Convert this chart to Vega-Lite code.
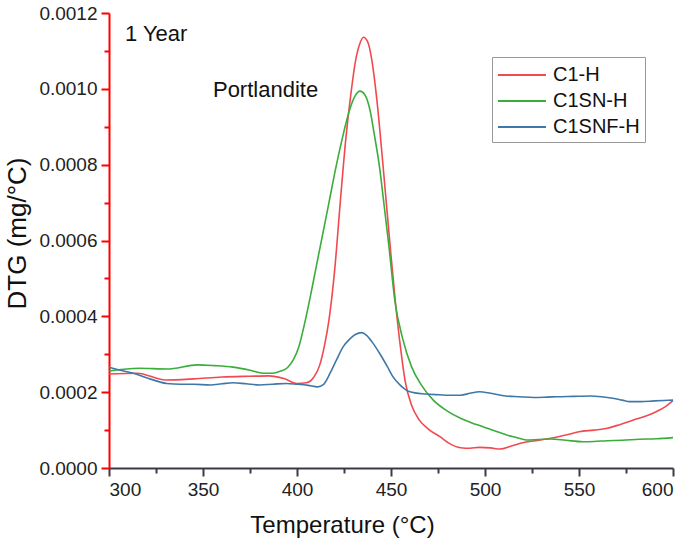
{
  "$schema": "https://vega.github.io/schema/vega-lite/v6.json",
  "width": 564,
  "height": 455,
  "autosize": {"type": "none"},
  "padding": {"left": 109, "top": 13, "right": 18, "bottom": 76},
  "background": "white",
  "config": {
    "font": "Liberation Sans",
    "view": {"stroke": null},
    "axis": {
      "domain": true,
      "ticks": true,
      "domainWidth": 2,
      "tickWidth": 2,
      "labelColor": "#222222",
      "titleColor": "#111111",
      "labelFontSize": 19,
      "titleFontSize": 24,
      "titleFontWeight": "normal",
      "grid": false
    }
  },
  "resolve": {"axis": {"x": "independent", "y": "independent"}},
  "datasets": {
    "curves": [
      {"T": 300, "v": 0.000248, "s": "C1-H"},
      {"T": 315, "v": 0.000250, "s": "C1-H"},
      {"T": 330, "v": 0.000232, "s": "C1-H"},
      {"T": 345, "v": 0.000235, "s": "C1-H"},
      {"T": 360, "v": 0.000240, "s": "C1-H"},
      {"T": 375, "v": 0.000242, "s": "C1-H"},
      {"T": 385, "v": 0.000243, "s": "C1-H"},
      {"T": 393, "v": 0.000236, "s": "C1-H"},
      {"T": 400, "v": 0.000223, "s": "C1-H"},
      {"T": 405, "v": 0.000225, "s": "C1-H"},
      {"T": 409, "v": 0.000240, "s": "C1-H"},
      {"T": 412, "v": 0.000270, "s": "C1-H"},
      {"T": 414.5, "v": 0.000320, "s": "C1-H"},
      {"T": 417, "v": 0.000390, "s": "C1-H"},
      {"T": 420, "v": 0.000520, "s": "C1-H"},
      {"T": 423, "v": 0.000700, "s": "C1-H"},
      {"T": 426, "v": 0.000870, "s": "C1-H"},
      {"T": 428.5, "v": 0.000980, "s": "C1-H"},
      {"T": 431, "v": 0.001070, "s": "C1-H"},
      {"T": 433.5, "v": 0.001120, "s": "C1-H"},
      {"T": 435.3, "v": 0.001136, "s": "C1-H"},
      {"T": 437.5, "v": 0.001125, "s": "C1-H"},
      {"T": 440, "v": 0.001070, "s": "C1-H"},
      {"T": 442.5, "v": 0.000970, "s": "C1-H"},
      {"T": 445, "v": 0.000840, "s": "C1-H"},
      {"T": 447.5, "v": 0.000700, "s": "C1-H"},
      {"T": 450, "v": 0.000560, "s": "C1-H"},
      {"T": 452.5, "v": 0.000430, "s": "C1-H"},
      {"T": 455, "v": 0.000320, "s": "C1-H"},
      {"T": 457.5, "v": 0.000230, "s": "C1-H"},
      {"T": 461, "v": 0.000165, "s": "C1-H"},
      {"T": 465, "v": 0.000127, "s": "C1-H"},
      {"T": 470, "v": 0.000102, "s": "C1-H"},
      {"T": 476, "v": 0.0000826, "s": "C1-H"},
      {"T": 481, "v": 0.000065, "s": "C1-H"},
      {"T": 487, "v": 0.0000536, "s": "C1-H"},
      {"T": 492, "v": 0.000052, "s": "C1-H"},
      {"T": 497, "v": 0.0000545, "s": "C1-H"},
      {"T": 503, "v": 0.000053, "s": "C1-H"},
      {"T": 508, "v": 0.000050, "s": "C1-H"},
      {"T": 514, "v": 0.000058, "s": "C1-H"},
      {"T": 520, "v": 0.0000667, "s": "C1-H"},
      {"T": 527, "v": 0.000072, "s": "C1-H"},
      {"T": 535, "v": 0.0000783, "s": "C1-H"},
      {"T": 543, "v": 0.000087, "s": "C1-H"},
      {"T": 550, "v": 0.0000957, "s": "C1-H"},
      {"T": 558, "v": 0.000100, "s": "C1-H"},
      {"T": 565, "v": 0.0001047, "s": "C1-H"},
      {"T": 572, "v": 0.000115, "s": "C1-H"},
      {"T": 579, "v": 0.0001266, "s": "C1-H"},
      {"T": 586, "v": 0.000138, "s": "C1-H"},
      {"T": 591, "v": 0.0001485, "s": "C1-H"},
      {"T": 596, "v": 0.000162, "s": "C1-H"},
      {"T": 600, "v": 0.0001775, "s": "C1-H"},

      {"T": 300, "v": 0.000256, "s": "C1SN-H"},
      {"T": 316, "v": 0.000263, "s": "C1SN-H"},
      {"T": 331, "v": 0.000261, "s": "C1SN-H"},
      {"T": 347, "v": 0.000272, "s": "C1SN-H"},
      {"T": 356, "v": 0.000270, "s": "C1SN-H"},
      {"T": 366, "v": 0.000266, "s": "C1SN-H"},
      {"T": 375, "v": 0.000258, "s": "C1SN-H"},
      {"T": 382, "v": 0.000250, "s": "C1SN-H"},
      {"T": 387, "v": 0.000250, "s": "C1SN-H"},
      {"T": 391, "v": 0.000255, "s": "C1SN-H"},
      {"T": 395, "v": 0.000265, "s": "C1SN-H"},
      {"T": 398, "v": 0.000285, "s": "C1SN-H"},
      {"T": 401, "v": 0.000320, "s": "C1SN-H"},
      {"T": 404, "v": 0.000380, "s": "C1SN-H"},
      {"T": 407, "v": 0.000450, "s": "C1SN-H"},
      {"T": 410, "v": 0.000525, "s": "C1SN-H"},
      {"T": 413, "v": 0.000600, "s": "C1SN-H"},
      {"T": 417, "v": 0.000700, "s": "C1SN-H"},
      {"T": 421, "v": 0.000800, "s": "C1SN-H"},
      {"T": 424.6, "v": 0.000880, "s": "C1SN-H"},
      {"T": 428, "v": 0.000945, "s": "C1SN-H"},
      {"T": 431, "v": 0.000982, "s": "C1SN-H"},
      {"T": 433.5, "v": 0.000994, "s": "C1SN-H"},
      {"T": 436, "v": 0.000985, "s": "C1SN-H"},
      {"T": 439, "v": 0.000940, "s": "C1SN-H"},
      {"T": 441, "v": 0.000883, "s": "C1SN-H"},
      {"T": 444, "v": 0.000790, "s": "C1SN-H"},
      {"T": 446, "v": 0.000707, "s": "C1SN-H"},
      {"T": 449, "v": 0.000580, "s": "C1SN-H"},
      {"T": 452, "v": 0.000443, "s": "C1SN-H"},
      {"T": 456, "v": 0.000345, "s": "C1SN-H"},
      {"T": 461, "v": 0.000266, "s": "C1SN-H"},
      {"T": 466, "v": 0.000220, "s": "C1SN-H"},
      {"T": 472.5, "v": 0.000179, "s": "C1SN-H"},
      {"T": 480, "v": 0.000150, "s": "C1SN-H"},
      {"T": 487, "v": 0.000131, "s": "C1SN-H"},
      {"T": 493, "v": 0.000119, "s": "C1SN-H"},
      {"T": 499, "v": 0.000109, "s": "C1SN-H"},
      {"T": 505, "v": 0.000098, "s": "C1SN-H"},
      {"T": 511.5, "v": 0.000087, "s": "C1SN-H"},
      {"T": 517, "v": 0.000080, "s": "C1SN-H"},
      {"T": 522, "v": 0.000074, "s": "C1SN-H"},
      {"T": 528, "v": 0.000075, "s": "C1SN-H"},
      {"T": 535, "v": 0.0000765, "s": "C1SN-H"},
      {"T": 543, "v": 0.000073, "s": "C1SN-H"},
      {"T": 552, "v": 0.0000694, "s": "C1SN-H"},
      {"T": 558, "v": 0.000070, "s": "C1SN-H"},
      {"T": 565, "v": 0.000072, "s": "C1SN-H"},
      {"T": 573, "v": 0.000073, "s": "C1SN-H"},
      {"T": 582, "v": 0.0000757, "s": "C1SN-H"},
      {"T": 591, "v": 0.000077, "s": "C1SN-H"},
      {"T": 600, "v": 0.000080, "s": "C1SN-H"},

      {"T": 300, "v": 0.000266, "s": "C1SNF-H"},
      {"T": 306, "v": 0.000258, "s": "C1SNF-H"},
      {"T": 313, "v": 0.000250, "s": "C1SNF-H"},
      {"T": 320, "v": 0.000238, "s": "C1SNF-H"},
      {"T": 330.7, "v": 0.000223, "s": "C1SNF-H"},
      {"T": 338, "v": 0.000221, "s": "C1SNF-H"},
      {"T": 345, "v": 0.000221, "s": "C1SNF-H"},
      {"T": 354, "v": 0.000219, "s": "C1SNF-H"},
      {"T": 360, "v": 0.000222, "s": "C1SNF-H"},
      {"T": 366, "v": 0.000225, "s": "C1SNF-H"},
      {"T": 373, "v": 0.000222, "s": "C1SNF-H"},
      {"T": 380, "v": 0.000219, "s": "C1SNF-H"},
      {"T": 387, "v": 0.000221, "s": "C1SNF-H"},
      {"T": 394.5, "v": 0.000223, "s": "C1SNF-H"},
      {"T": 400, "v": 0.000221, "s": "C1SNF-H"},
      {"T": 406, "v": 0.000218, "s": "C1SNF-H"},
      {"T": 411, "v": 0.000214, "s": "C1SNF-H"},
      {"T": 414, "v": 0.000220, "s": "C1SNF-H"},
      {"T": 417.6, "v": 0.000250, "s": "C1SNF-H"},
      {"T": 421, "v": 0.000285, "s": "C1SNF-H"},
      {"T": 424.6, "v": 0.000320, "s": "C1SNF-H"},
      {"T": 428, "v": 0.000340, "s": "C1SNF-H"},
      {"T": 431, "v": 0.000352, "s": "C1SNF-H"},
      {"T": 434.4, "v": 0.000357, "s": "C1SNF-H"},
      {"T": 437, "v": 0.000350, "s": "C1SNF-H"},
      {"T": 440, "v": 0.000332, "s": "C1SNF-H"},
      {"T": 444, "v": 0.000302, "s": "C1SNF-H"},
      {"T": 448, "v": 0.000268, "s": "C1SNF-H"},
      {"T": 451, "v": 0.000241, "s": "C1SNF-H"},
      {"T": 455, "v": 0.000218, "s": "C1SNF-H"},
      {"T": 460, "v": 0.000201, "s": "C1SNF-H"},
      {"T": 468, "v": 0.000195, "s": "C1SNF-H"},
      {"T": 476, "v": 0.000193, "s": "C1SNF-H"},
      {"T": 481, "v": 0.000192, "s": "C1SNF-H"},
      {"T": 487, "v": 0.000192, "s": "C1SNF-H"},
      {"T": 492, "v": 0.000197, "s": "C1SNF-H"},
      {"T": 497, "v": 0.000201, "s": "C1SNF-H"},
      {"T": 503, "v": 0.000197, "s": "C1SNF-H"},
      {"T": 511, "v": 0.000190, "s": "C1SNF-H"},
      {"T": 518, "v": 0.000188, "s": "C1SNF-H"},
      {"T": 526, "v": 0.000186, "s": "C1SNF-H"},
      {"T": 533, "v": 0.000187, "s": "C1SNF-H"},
      {"T": 538, "v": 0.000188, "s": "C1SNF-H"},
      {"T": 547, "v": 0.000189, "s": "C1SNF-H"},
      {"T": 556, "v": 0.000190, "s": "C1SNF-H"},
      {"T": 562, "v": 0.000188, "s": "C1SNF-H"},
      {"T": 568, "v": 0.000184, "s": "C1SNF-H"},
      {"T": 573, "v": 0.000179, "s": "C1SNF-H"},
      {"T": 577, "v": 0.000175, "s": "C1SNF-H"},
      {"T": 583, "v": 0.000175, "s": "C1SNF-H"},
      {"T": 590, "v": 0.000177, "s": "C1SNF-H"},
      {"T": 595, "v": 0.000178, "s": "C1SNF-H"},
      {"T": 600, "v": 0.000179, "s": "C1SNF-H"}
    ],
    "notes": [
      {"T": 308.5, "v": 0.001126, "label": "1 Year"},
      {"T": 355.3, "v": 0.000979, "label": "Portlandite"}
    ]
  },
  "layer": [
    {
      "data": {"name": "curves"},
      "mark": {"type": "line", "strokeWidth": 1.6, "interpolate": "monotone"},
      "encoding": {
        "x": {
          "field": "T", "type": "quantitative",
          "scale": {"domain": [300, 600], "nice": false, "zero": false},
          "axis": {
            "orient": "bottom",
            "title": "Temperature (°C)",
            "values": [300, 350, 400, 450, 500, 550, 600],
            "domainColor": "#3a3a46",
            "tickColor": "#3a3a46",
            "tickSize": 8,
            "labelPadding": 4,
            "titlePadding": 14,
            "titleX": 233,
            "titleAnchor": "middle"
          }
        },
        "y": {
          "field": "v", "type": "quantitative",
          "scale": {"domain": [0, 0.0012], "nice": false},
          "axis": {
            "orient": "left",
            "title": "DTG (mg/°C)",
            "titleFontSize": 26,
            "titleY": 220,
            "values": [0, 0.0002, 0.0004, 0.0006, 0.0008, 0.001, 0.0012],
            "format": ".4f",
            "domainColor": "red",
            "tickColor": "red",
            "tickSize": 8,
            "labelPadding": 4,
            "titlePadding": 8
          }
        },
        "color": {
          "field": "s", "type": "nominal",
          "scale": {"domain": ["C1-H", "C1SN-H", "C1SNF-H"], "range": ["#f04a50", "#3aad3a", "#3f78a8"]},
          "legend": {
            "title": null,
            "orient": "none",
            "legendX": 383,
            "legendY": 44,
            "strokeColor": "#999999",
            "padding": 5,
            "symbolType": "M-2,0H2",
            "symbolSize": 576,
            "symbolOffset": 12,
            "symbolStrokeWidth": 2,
            "labelFontSize": 20,
            "labelColor": "#111111",
            "rowPadding": 3,
            "labelOffset": 18
          }
        }
      }
    },
    {
      "data": {"name": "notes"},
      "mark": {"type": "text", "align": "left", "baseline": "alphabetic", "fontSize": 22, "color": "#111111"},
      "encoding": {
        "x": {
          "field": "T", "type": "quantitative",
          "axis": {
            "orient": "bottom",
            "values": [325, 375, 425, 475, 525, 575],
            "tickColor": "#3a3a46",
            "tickSize": 5,
            "labels": false,
            "domain": false,
            "title": null
          }
        },
        "y": {
          "field": "v", "type": "quantitative",
          "axis": {
            "orient": "left",
            "values": [0.0001, 0.0003, 0.0005, 0.0007, 0.0009, 0.0011],
            "tickColor": "red",
            "tickSize": 5,
            "labels": false,
            "domain": false,
            "title": null
          }
        },
        "text": {"field": "label"}
      }
    }
  ]
}
